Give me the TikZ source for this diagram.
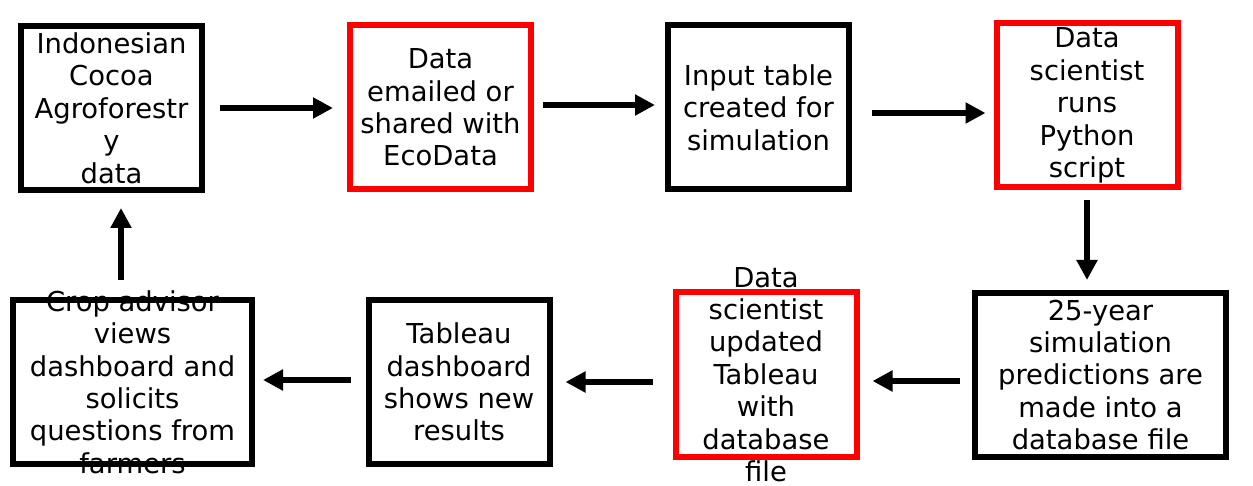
\documentclass[tikz,border=0pt]{standalone}
\usepackage{fontspec}
\setmainfont{DejaVu Sans}
\usetikzlibrary{arrows.meta}

\begin{document}
\begin{tikzpicture}[x=0.5pt,y=-0.5pt,
	main node/.style={rectangle, draw, line width=3pt, minimum width=90.5pt, minimum height=82pt, inner sep=0pt},
	red node/.style={main node, draw=red},
	every label/.style={align=center, inner sep=0pt, font=\fontsize{13.7}{16.2}\selectfont},
	flow/.style={-{Triangle[length=10pt,width=10pt]}, line width=3pt}]
			\useasboundingbox (0,0) rectangle (1253,486);
			
			% Nodes
			\node[main node, label={center:Indonesian\\Cocoa\\Agroforestr\\y\\data}] (1) at (111.5,108) {};
			\node[red node, label={center:Data\\emailed or\\shared with\\EcoData}] (2) at (440.5,107.5) {};
			\node[main node, label={center:Input table\\created for\\simulation}] (3) at (758.5,107.5) {};
			\node[red node, label={center:Data\\scientist\\runs\\Python\\script}] (4) at (1087,105.5) {};
			\node[main node, minimum width=125.5pt, label={center:25-year\\simulation\\predictions are\\made into a\\database file}] (5) at (1100.5,375) {};
			\node[red node, label={center:Data\\scientist\\updated\\Tableau\\with\\database\\file}] (6) at (766,374.5) {};
			\node[main node, label={center:Tableau\\dashboard\\shows new\\results}] (7) at (459,382) {};
			\node[main node, minimum width=119.5pt, label={center:Crop advisor\\views\\dashboard and\\solicits\\questions from\\farmers}] (8) at (132.5,382) {};
			
			% Arrows
			\draw[flow, shorten <=7.5pt, shorten >=7pt] (1.east) -- (1.east -| 2.west);
			\draw[flow, shorten <=4.5pt, shorten >=5pt] ([yshift=1.25pt]2.east) -- ([yshift=1.25pt]3.west);
			\draw[flow, shorten <=10pt, shorten >=4pt] ([yshift=-2.75pt]3.east) -- ([yshift=-2.75pt]3.east -| 4.west);
			\draw[flow, shorten <=5pt, shorten >=5pt] (4.south) -- (4.south |- 5.north);
			\draw[flow, shorten <=6pt, shorten >=6.5pt] ([yshift=-3pt]5.west) -- ([yshift=-3pt]5.west -| 6.east);
			\draw[flow, shorten <=10pt, shorten >=6.5pt] (6.west |- 7.east) -- (7.east);
			\draw[flow, shorten <=7.5pt, shorten >=4pt] ([yshift=1pt]7.west) -- ([yshift=1pt]8.east);
			\draw[flow, shorten <=8.5pt, shorten >=7.5pt] ([xshift=-5.75pt]8.north) -- ([xshift=-5.75pt]8.north |- 1.south);
			
\end{tikzpicture}
\end{document}
